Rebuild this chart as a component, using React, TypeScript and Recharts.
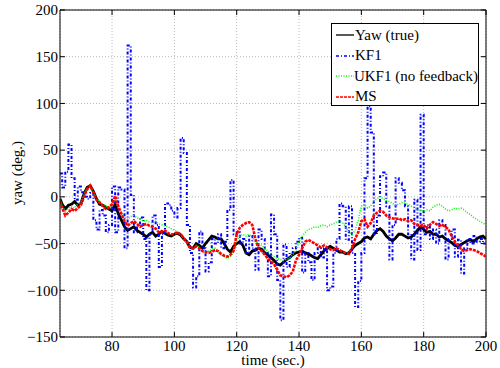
import {
  LineChart,
  Line,
  XAxis,
  YAxis,
  CartesianGrid,
  ReferenceLine,
  Legend,
  Label,
} from "recharts";

const FONT = "Times New Roman, Liberation Serif, Times, DejaVu Serif, serif";

// sample times: first sample at 63.3 s, then one per second up to 200 s
const TIME = [63.3, ...Array.from({ length: 137 }, (_, i) => 64 + i)];

const YAW_TRUE = [
  -2,
  -8, -13, -9, -8, -5, -9, -7, 3, 10, 12,
  6, -2, -8, -9, -11, -13, -15, -8, -18, -25,
  -32, -36, -34, -32, -36, -38, -40, -43, -40, -38,
  -42, -40, -37, -39, -41, -42, -40, -39, -41, -45,
  -48, -54, -55, -50, -52, -55, -50, -46, -42, -43,
  -45, -45, -50, -56, -59, -53, -50, -48, -52, -60,
  -62, -58, -57, -55, -56, -60, -62, -65, -68, -72,
  -73, -70, -67, -65, -62, -60, -59, -58, -60, -61,
  -63, -65, -66, -62, -58, -55, -53, -55, -57, -59,
  -59, -61, -60, -56, -52, -50, -48, -44, -43, -45,
  -40, -36, -34, -37, -42, -45, -47, -44, -40, -40,
  -42, -44, -43, -40, -36, -32, -35, -38, -37, -40,
  -40, -43, -42, -45, -47, -49, -52, -53, -51, -49,
  -47, -46, -48, -45, -43, -42, -45,
];

const KF1 = [
  25,
  10, 27, 56, 20, -3, 11, 5, 0, -2, 4,
  -25, -35, -14, -20, -38, -30, 11, -38, 10, 8,
  -55, 162, 2, -38, -30, -22, -45, -100, -40, -20,
  -30, -75, -40, -7, -9, -15, -22, -12, 63, 47,
  -30, -60, -97, -85, -37, -55, -80, -70, -45, -50,
  -40, -55, -48, -14, 18, -40, -38, -50, -45, -60,
  -42, -55, -78, -35, -45, -60, -85, -19, -40, -89,
  -132, -51, -75, -60, -55, -48, -44, -81, -60, -70,
  -89, -60, -55, -65, -55, -100, -96, -60, -45, -7,
  -10, -46, -10, -60, -118, -90, -60, 20, 97, 69,
  -40, -20, 22, 26, -10, -67, -30, 20, 15, 7,
  -10, -40, -67, -3, -57, 88, -40, -30, -45, -35,
  -50, -25, -30, -67, -45, -35, -64, -46, -82, -55,
  -45, -50, -42, -48, -45, -50, -47,
];

const UKF1 = [
  -3,
  -10, -15, -13, -10, -12, -8, -6, 2, 9, 11,
  4, -3, -5, -8, -10, -12, -10, -3, -12, -18,
  -22, -24, -21, -20, -22, -24, -26, -25, -27, -28,
  -26, -29, -30, -31, -32, -34, -36, -37, -40, -45,
  -50, -55, -57, -52, -54, -58, -60, -58, -56, -55,
  -58, -62, -64, -66, -64, -58, -46, -42, -40, -42,
  -40, -44, -48, -50, -52, -55, -58, -62, -64, -66,
  -67, -68, -67, -66, -62, -57, -48, -42, -38, -35,
  -34, -32, -33, -31, -30, -32, -30, -29, -27, -26,
  -28, -32, -38, -40, -36, -25, -10, -8, -12, -10,
  -5, -2, 0, -2, -4, -5, -7, -9, -8, -6,
  -7, -8, -10, -12, -14, -15, -16, -14, -15, -11,
  -9, -8, -10, -13, -15, -14, -12, -13, -12, -14,
  -17, -19, -22, -24, -26, -28, -30,
];

const MS = [
  -5,
  -12, -20, -17, -13, -15, -12, -9, 0, 8, 12,
  5, -3, -6, -10, -13, -11, -8, 1, -10, -18,
  -26, -31, -28, -26, -29, -32, -30, -29, -31, -32,
  -34, -38, -37, -36, -39, -40, -40, -38, -40, -44,
  -48, -54, -55, -53, -55, -58, -59, -60, -59, -57,
  -58, -61, -63, -64, -62, -58, -40, -33, -30, -28,
  -27, -30, -45, -55, -58, -62, -66, -69, -72, -78,
  -84, -85, -86, -84, -80, -68, -62, -55, -48, -46,
  -48, -50, -52, -54, -52, -54, -56, -57, -55, -57,
  -59, -60, -61, -55, -45, -38, -26, -24, -32, -28,
  -20, -17, -15, -16, -20, -22, -23, -24, -23, -25,
  -24, -26, -25, -29, -30, -31, -30, -34, -30, -27,
  -29, -31, -30, -32, -35, -42, -48, -52, -56, -58,
  -57, -56, -57, -58, -60, -62, -64,
];

const X_DOMAIN = [63.3, 200];
const Y_DOMAIN = [-150, 200];
const X_TICKS = [80, 100, 120, 140, 160, 180, 200];
const Y_TICKS = [-150, -100, -50, 0, 50, 100, 150, 200];

const SERIES = [
  { key: "yaw", name: "Yaw (true)", color: "#000000", dash: undefined, width: 2.8, type: "linear" },
  { key: "kf1", name: "KF1", color: "#0000ff", dash: "3 2 1 2", width: 2, type: "stepAfter" },
  { key: "ukf1", name: "UKF1 (no feedback)", color: "#00ff00", dash: "1 1.5", width: 1.6, type: "linear" },
  { key: "ms", name: "MS", color: "#ff0000", dash: "3 1", width: 2.6, type: "linear" },
];

// inward tick length, in data units (~5 px)
const TICK_DX = 1.6;
const TICK_DY = 5.4;

const minus = (v: number) => String(v).replace("-", "\u2212");

const renderLegend = () => (
  <div
    style={{
      boxSizing: "border-box",
      width: 148,
      height: 83,
      border: "1px solid #000",
      background: "#fff",
      fontFamily: FONT,
      fontSize: 15,
      color: "#000",
      paddingTop: 1,
    }}
  >
    {SERIES.map((s) => (
      <div key={s.key} style={{ display: "flex", alignItems: "center", height: 20.5 }}>
        <svg width={20} height={6} style={{ marginLeft: 3 }}>
          <line x1={1} y1={3} x2={19} y2={3} stroke={s.color} strokeWidth={1.3} strokeDasharray={s.dash} />
        </svg>
        <span style={{ marginLeft: 0, whiteSpace: "nowrap" }}>{s.name}</span>
      </div>
    ))}
  </div>
);

export default function App() {
  const rows = TIME.map((t, i) => ({
    t,
    yaw: YAW_TRUE[i],
    kf1: KF1[i],
    ukf1: UKF1[i],
    ms: MS[i],
  }));

  return (
    <div style={{ position: "absolute", left: 0, top: 0, background: "#fff", fontFamily: FONT }}>
      <LineChart width={500} height={368} data={rows} margin={{ top: 10, right: 14, bottom: 0, left: 0 }}>
        <CartesianGrid stroke="#b8b8b8" strokeDasharray="1 2" />
        <XAxis
          dataKey="t"
          type="number"
          domain={X_DOMAIN}
          ticks={X_TICKS}
          allowDataOverflow
          height={31}
          tickLine={false}
          tickSize={0}
          tickMargin={3}
          axisLine={{ stroke: "#000" }}
          tick={{ fill: "#000", fontSize: 15, fontFamily: FONT }}
        >
          <Label
            content={() => (
              <text x={273} y={365} textAnchor="middle" fontSize={15} fontFamily={FONT} fill="#000">
                time (sec.)
              </text>
            )}
          />
        </XAxis>
        <YAxis
          type="number"
          domain={Y_DOMAIN}
          ticks={Y_TICKS}
          allowDataOverflow
          width={60}
          tickLine={false}
          tickSize={0}
          tickMargin={2}
          tickFormatter={minus}
          axisLine={{ stroke: "#000" }}
          tick={{ fill: "#000", fontSize: 15, fontFamily: FONT }}
        >
          <Label
            content={() => (
              <text
                x={17}
                y={173}
                transform="rotate(-90 17 173)"
                textAnchor="middle"
                dominantBaseline="central"
                fontSize={15}
                fontFamily={FONT}
                fill="#000"
              >
                yaw (deg.)
              </text>
            )}
          />
        </YAxis>

        {/* box: top and right edges */}
        <ReferenceLine y={200} stroke="#000" />
        <ReferenceLine x={200} stroke="#000" />

        {/* inward tick marks on all four sides */}
        {X_TICKS.map((t) => (
          <ReferenceLine key={`xb${t}`} stroke="#000" segment={[{ x: t, y: -150 }, { x: t, y: -150 + TICK_DY }]} />
        ))}
        {X_TICKS.map((t) => (
          <ReferenceLine key={`xt${t}`} stroke="#000" segment={[{ x: t, y: 200 }, { x: t, y: 200 - TICK_DY }]} />
        ))}
        {Y_TICKS.map((v) => (
          <ReferenceLine key={`yl${v}`} stroke="#000" segment={[{ x: 63.3, y: v }, { x: 63.3 + TICK_DX, y: v }]} />
        ))}
        {Y_TICKS.map((v) => (
          <ReferenceLine key={`yr${v}`} stroke="#000" segment={[{ x: 200, y: v }, { x: 200 - TICK_DX, y: v }]} />
        ))}

        {SERIES.map((s) => (
          <Line
            key={s.key}
            dataKey={s.key}
            name={s.name}
            type={s.type as any}
            stroke={s.color}
            strokeWidth={s.width}
            strokeDasharray={s.dash}
            dot={false}
            activeDot={false}
            isAnimationActive={false}
          />
        ))}

        <Legend
          layout="vertical"
          align="center"
          verticalAlign="middle"
          wrapperStyle={{ left: 331, top: 23, width: 148, height: 83 }}
          content={renderLegend}
        />
      </LineChart>
    </div>
  );
}
